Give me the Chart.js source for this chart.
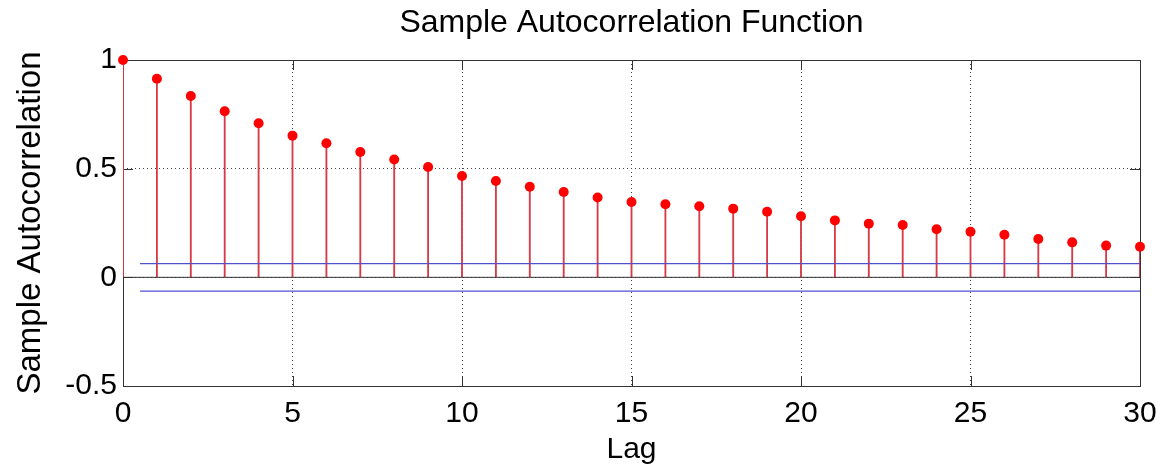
<!DOCTYPE html>
<html>
<head>
<meta charset="utf-8">
<script src="https://cdn.jsdelivr.net/npm/chart.js@4"></script>
<style>
  body { margin: 0; background: #fff; }
  canvas { display: block; }
</style>
</head>
<body>
<canvas id="acfChart" width="1171" height="465"></canvas>
<script>
// lags and sample autocorrelation values
const lags = [0, 1, 2, 3, 4, 5, 6, 7, 8, 9, 10, 11, 12, 13, 14, 15,
              16, 17, 18, 19, 20, 21, 22, 23, 24, 25, 26, 27, 28, 29, 30];
const acf = [1.0, 0.914, 0.834, 0.764, 0.709, 0.652, 0.617, 0.577, 0.542, 0.508,
             0.466, 0.443, 0.417, 0.393, 0.367, 0.347, 0.336, 0.327, 0.316, 0.302,
             0.281, 0.262, 0.247, 0.241, 0.221, 0.210, 0.196, 0.176, 0.161, 0.146, 0.141];
// confidence bounds (blue lines) and the lag range they cover
const bound = 0.063;
const boundLags = [0.5, 30];
const xTicks = [0, 5, 10, 15, 20, 25, 30];
const yTicks = [-0.5, 0, 0.5, 1];

const font = 'Arial, "Liberation Sans", sans-serif';

const points = lags.map((lag, i) => ({ x: lag, y: acf[i] }));

// box round the plot area plus small inward tick marks
const framePlugin = {
    id: 'frame',
    beforeDatasetsDraw(chart) {
        const { ctx, chartArea: a, scales } = chart;
        ctx.save();
        ctx.strokeStyle = '#333';
        ctx.lineWidth = 1;
        ctx.beginPath();
        xTicks.forEach(v => {
            const px = Math.round(scales.x.getPixelForValue(v)) + 0.5;
            ctx.moveTo(px, a.bottom); ctx.lineTo(px, a.bottom - 10);
            ctx.moveTo(px, a.top); ctx.lineTo(px, a.top + 10);
        });
        yTicks.forEach(v => {
            const py = Math.round(scales.y.getPixelForValue(v)) + 0.5;
            ctx.moveTo(a.left, py); ctx.lineTo(a.left + 10, py);
            ctx.moveTo(a.right, py); ctx.lineTo(a.right - 10, py);
        });
        ctx.stroke();
        ctx.strokeRect(Math.round(a.left) + 0.5, Math.round(a.top) + 0.5,
                       Math.round(a.right - a.left), Math.round(a.bottom - a.top));
        ctx.restore();
    }
};

const ctx = document.getElementById('acfChart').getContext('2d');
const chart = new Chart(ctx, {
    type: 'bar',
    data: {
        datasets: [
            {
                type: 'scatter',
                data: points,
                showLine: false,
                pointRadius: 5,
                pointBackgroundColor: '#ff0000',
                pointBorderWidth: 0,
                clip: false,
                order: 0
            },
            {
                type: 'line',
                data: boundLags.map(x => ({ x: x, y: bound })),
                borderColor: 'rgb(80,80,205)',
                borderWidth: 1.2,
                pointRadius: 0,
                order: 1
            },
            {
                type: 'line',
                data: boundLags.map(x => ({ x: x, y: -bound })),
                borderColor: 'rgb(80,80,205)',
                borderWidth: 1.2,
                pointRadius: 0,
                order: 1
            },
            {
                type: 'line',
                data: [{ x: lags[0], y: 0 }, { x: lags[lags.length - 1], y: 0 }],
                borderColor: '#333',
                borderWidth: 1,
                pointRadius: 0,
                order: 2
            },
            {
                type: 'bar',
                data: points,
                backgroundColor: 'rgb(215,60,70)',
                barThickness: 1.2,
                order: 3
            }
        ]
    },
    options: {
        responsive: false,
        animation: false,
        layout: { padding: { left: 0, right: 31, top: 0, bottom: 0 } },
        plugins: {
            legend: { display: false },
            tooltip: { enabled: false },
            title: { display: false }
        },
        scales: {
            x: {
                type: 'linear',
                min: 0,
                max: 30,
                offset: false,
                afterFit: s => { s.height = 79; },
                afterBuildTicks: s => { s.ticks = xTicks.map(v => ({ value: v })); },
                grid: { color: '#444', drawTicks: false, offset: false, lineWidth: 1 },
                border: { display: false, dash: [1, 3] },
                ticks: {
                    color: '#000',
                    padding: 10,
                    maxRotation: 0,
                    font: { family: font, size: 30 }
                },
                title: {
                    display: true,
                    text: 'Lag',
                    color: '#000',
                    font: { family: font, size: 30, lineHeight: 1 },
                    padding: { top: 2, bottom: 0 }
                }
            },
            // top axis only carries the chart title, centred over the plot area
            x2: {
                type: 'linear',
                position: 'top',
                min: 0,
                max: 30,
                afterFit: s => { s.height = 60; },
                grid: { display: false },
                border: { display: false },
                ticks: { display: false },
                title: {
                    display: true,
                    text: 'Sample Autocorrelation Function',
                    color: '#000',
                    font: { family: font, size: 32, lineHeight: 1.2 },
                    padding: { top: 4, bottom: 0 }
                }
            },
            y: {
                min: -0.5,
                max: 1,
                afterFit: s => { s.width = 123; },
                afterBuildTicks: s => { s.ticks = yTicks.map(v => ({ value: v })); },
                grid: { color: '#444', drawTicks: false, lineWidth: 1 },
                border: { display: false, dash: [1, 3] },
                ticks: {
                    color: '#000',
                    padding: 6,
                    font: { family: font, size: 30 },
                    callback: v => String(v)
                },
                title: {
                    display: true,
                    text: 'Sample Autocorrelation',
                    color: '#000',
                    font: { family: font, size: 33, lineHeight: 1.2 },
                    padding: { top: 11, bottom: 0 }
                }
            }
        }
    },
    plugins: [framePlugin]
});
</script>
</body>
</html>
